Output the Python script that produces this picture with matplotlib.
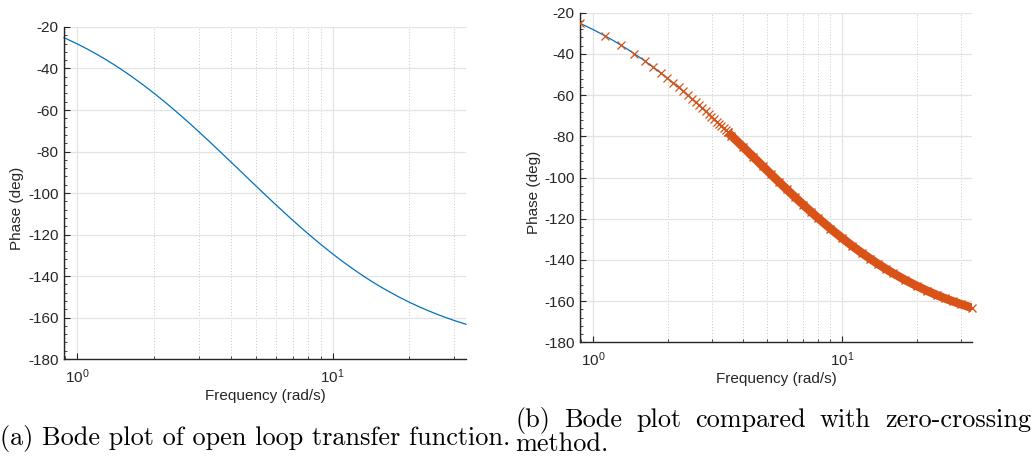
import numpy as np
import matplotlib
matplotlib.use("Agg")
import matplotlib.pyplot as plt
from matplotlib.ticker import LogLocator, NullFormatter, AutoMinorLocator, FixedLocator

plt.rcParams['font.family'] = ['Liberation Sans', 'DejaVu Sans']
plt.rcParams['mathtext.fontset'] = 'custom'
plt.rcParams['mathtext.rm'] = 'Liberation Sans'
plt.rcParams['mathtext.it'] = 'Liberation Sans:italic'
plt.rcParams['axes.unicode_minus'] = False

# phase curve (rad/s, deg)
freq = [0.888, 1.0, 1.1, 1.2, 1.3, 1.4, 1.5, 1.6, 1.8, 2.0, 2.2, 2.4, 2.6, 2.8, 3.0,
        3.3, 3.6, 4.0, 4.4, 4.8, 5.2, 5.6, 6.0, 6.5, 7.0, 7.5, 8.0, 9.0, 10, 11, 12,
        13, 14, 15, 16, 18, 20, 22, 24, 26, 28, 30, 33.3]
phase = [-25.14, -28.12, -30.75, -33.31, -35.82, -38.29, -40.70, -43.06, -47.61,
         -51.94, -56.05, -59.97, -63.69, -67.21, -70.58, -75.29, -79.68, -85.05,
         -89.93, -94.39, -98.48, -102.24, -105.70, -109.65, -113.25, -116.53,
         -119.53, -124.82, -129.32, -133.19, -136.53, -139.46, -142.05, -144.33,
         -146.37, -149.83, -152.66, -155.02, -157.01, -158.72, -160.18, -161.47,
         -163.26]

# zero-crossing estimates (separate x markers, before they merge into a band)
zc_freq = [0.890, 1.116, 1.303, 1.467, 1.614, 1.749, 1.874, 1.992, 2.102, 2.208,
           2.308, 2.404, 2.497, 2.586, 2.672, 2.756, 2.837, 2.916, 2.993, 3.067,
           3.140, 3.212, 3.282, 3.350, 3.417, 3.483]
zc_phase = [-25.20, -31.16, -35.90, -39.91, -43.38, -46.47, -49.23, -51.77, -54.07,
            -56.22, -58.19, -60.05, -61.80, -63.44, -64.99, -66.45, -67.85, -69.18,
            -70.46, -71.65, -72.82, -73.95, -75.02, -76.05, -77.05, -78.01]

yticks = [-180, -160, -140, -120, -100, -80, -60, -40, -20]
xlim = (0.888, 33.3)

caption_a = "(a) Bode plot of open loop transfer function."
caption_b1 = ["(b)", "Bode", "plot", "compared", "with", "zero-crossing"]
caption_b2 = "method."

blue = '#0072BD'
orange = '#D95319'
axcol = '#262626'

W, H = 1033, 465
fig = plt.figure(figsize=(W / 100, H / 100), dpi=100)
ax1 = fig.add_axes([64 / W, 1 - 359 / H, 402 / W, 332 / H])
ax2 = fig.add_axes([580 / W, 1 - 342.3 / H, 392 / W, 329.6 / H])


def style(ax):
    ax.set_xscale('log')
    ax.set_xlim(*xlim)
    ax.set_ylim(-180, -20)
    ax.set_yticks(yticks)
    ax.set_yticklabels([str(v) for v in yticks])
    ax.xaxis.set_major_locator(FixedLocator([1, 10]))
    ax.set_xticklabels([r'$10^0$', r'$10^1$'])
    ax.xaxis.set_minor_locator(LogLocator(base=10, subs=np.arange(2, 10)))
    ax.xaxis.set_minor_formatter(NullFormatter())
    ax.yaxis.set_minor_locator(AutoMinorLocator(5))
    for s in ['top', 'right']:
        ax.spines[s].set_visible(False)
    for s in ['left', 'bottom']:
        ax.spines[s].set_color(axcol)
        ax.spines[s].set_linewidth(1.0)
    ax.tick_params(which='both', direction='in', colors=axcol, labelsize=11)
    ax.tick_params(which='major', length=4, width=0.8)
    ax.tick_params(which='minor', length=2, width=0.6)
    ax.tick_params(axis='y', pad=4)
    ax.tick_params(axis='x', pad=6)
    ax.grid(True, which='major', color='#e3e3e3', lw=0.9, ls='-')
    ax.grid(True, which='minor', axis='x', color='#c8c8c8', lw=0.7, ls=(0, (1, 2)))
    ax.set_axisbelow(True)
    ax.set_xlabel('Frequency (rad/s)', fontsize=11, color=axcol, labelpad=2)
    ax.set_ylabel('Phase (deg)', fontsize=11, color=axcol)


style(ax1)
style(ax2)
ax1.yaxis.set_label_coords(-0.1, 0.455)
ax2.yaxis.set_label_coords(-0.1, 0.455)

ax1.plot(freq, phase, color=blue, lw=0.9, clip_on=False)

ax2.plot(freq, phase, color=blue, lw=0.9, zorder=2)
ax2.plot(zc_freq, zc_phase, 'x', color=orange, ms=5.5, mew=0.9, zorder=3)
# past ~3.5 rad/s the crosses overlap into a solid band
band_f = [zc_freq[-1]] + [f for f in freq if f > zc_freq[-1]]
band_p = [zc_phase[-1]] + [p for f, p in zip(freq, phase) if f > zc_freq[-1]]
ax2.plot(band_f, band_p, '-', color=orange, lw=6.2, solid_capstyle='butt', zorder=3)
ax2.plot(band_f, band_p, 'x', color=orange, ms=6, mew=1.0, zorder=3, clip_on=False)

# captions (LaTeX-like serif)
cap_kw = dict(fontfamily='cmr10', fontsize=18.9, color='black', va='baseline')
fig.text(0, 1 - 445 / H, caption_a, **cap_kw)

fig.canvas.draw()
r = fig.canvas.get_renderer()
words = [fig.text(0, 1 - 426.7 / H, w_, **cap_kw) for w_ in caption_b1]
widths = [t.get_window_extent(r).width for t in words]
x0, x1 = 515, 1031
gap = (x1 - x0 - sum(widths)) / (len(words) - 1)
x = x0
for t, wd in zip(words, widths):
    t.set_x(x / W)
    x += wd + gap
fig.text(x0 / W, 1 - 450.7 / H, caption_b2, **cap_kw)

fig.savefig('out.png', dpi=100)
